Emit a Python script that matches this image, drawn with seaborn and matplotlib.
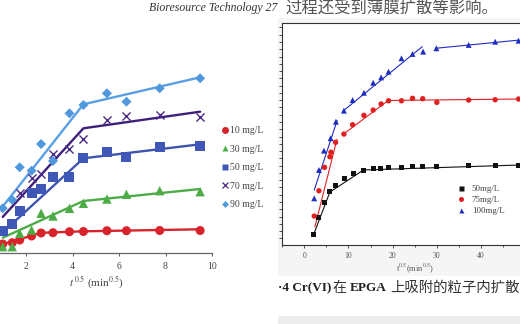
import numpy as np
import pandas as pd
import seaborn as sns
import matplotlib
matplotlib.use("Agg")
import matplotlib.pyplot as plt
from matplotlib.lines import Line2D
from matplotlib.patches import Rectangle
from matplotlib.ticker import MultipleLocator

# ---------------- data: left panel (q vs t^0.5) ----------------
left_x = [1.0, 1.41, 1.73, 2.24, 2.65, 3.16, 3.87, 4.47, 5.48, 6.32, 7.75, 9.49]
left_x70 = [1.73, 2.24, 2.65, 3.16, 3.87, 4.47, 5.48, 6.32, 7.75, 9.49]
q10 = [0.93, 1.06, 1.33, 1.73, 2.03, 2.06, 2.16, 2.18, 2.26, 2.26, 2.28, 2.28]
q30 = [0.66, 0.66, 2.0, 2.33, 4.0, 3.73, 4.5, 5.0, 5.43, 5.9, 6.26, 6.16]
q50 = [2.26, 2.93, 4.23, 6.0, 6.43, 7.6, 7.66, 9.5, 10.1, 9.66, 10.6, 10.76]
q70 = [6.03, 7.56, 7.93, 9.93, 10.43, 11.48, 13.33, 13.78, 13.83, 13.63]
q90 = [4.5, 5.33, 8.6, 8.26, 10.93, 9.23, 14.0, 14.83, 16.0, 15.16, 16.5, 17.5]
left_labels = ["10 mg/L", "30 mg/L", "50 mg/L", "70 mg/L", "90 mg/L"]

fit_x10 = [1.0, 2.65, 4.47, 9.49]
fit_q10 = [0.9, 2.05, 2.2, 2.4]
fit_x = [1.0, 4.47, 9.49]
fit_q30 = [1.56, 5.23, 6.43]
fit_q50 = [2.09, 9.5, 10.9]
fit_q70 = [3.64, 12.5, 14.16]
fit_q90 = [4.68, 14.9, 17.6]
left_xticks = [2, 4, 6, 8, 10]

# ---------------- data: right panel ----------------
r_x50 = [2.04, 3.26, 4.52, 5.81, 7.17, 9.05, 11.1, 13.5, 15.6, 17.3, 19.1, 21.9, 24.5, 26.8, 30.0, 37.2, 43.2, 48.5]
r_q50 = [2.75, 14.4, 24.8, 32.0, 36.5, 41.3, 44.4, 46.5, 47.7, 48.1, 48.6, 49.0, 49.2, 49.5, 49.7, 49.9, 50.2, 50.2]
r_x75 = [2.26, 3.32, 4.6, 5.81, 6.04, 7.1, 8.98, 10.94, 13.5, 15.6, 17.4, 19.07, 22.0, 24.5, 26.8, 30.0, 37.2, 43.2, 48.5]
r_q75 = [15.3, 32.7, 48.8, 56.1, 59.2, 66.0, 71.7, 78.1, 84.6, 88.2, 92.4, 94.6, 94.6, 96.3, 96.0, 93.5, 95.1, 95.3, 95.8]
r_x100 = [2.26, 3.32, 4.46, 5.97, 7.17, 8.98, 10.94, 13.5, 15.6, 17.4, 19.07, 22.0, 24.5, 26.9, 29.9, 37.2, 43.2, 48.5]
r_q100 = [27.5, 47.0, 60.3, 68.8, 80.2, 87.8, 95.1, 100.1, 107.0, 110.7, 114.6, 123.8, 126.8, 128.4, 130.7, 133.0, 135.2, 135.9]
right_labels = ["50mg/L", "75mg/L", "100mg/L"]

# fitted segments (series, segment id, x, q)
rfit_series = ["50mg/L"] * 4 + ["75mg/L"] * 5 + ["100mg/L"] * 6
rfit_seg = [0, 0, 0, 0, 1, 1, 2, 2, 2, 3, 3, 4, 4, 5, 5]
rfit_x = [2.0, 5.8, 13.4, 48.5, 2.42, 7.4, 8.8, 19.0, 48.5, 2.26, 7.45, 8.8, 26.7, 29.7, 48.5]
rfit_q = [1.6, 31.8, 47.0, 50.4, 8.0, 68.1, 71.5, 94.8, 95.8, 33.2, 81.1, 87.6, 131.8, 130.7, 136.3]
right_xticks = [0, 10, 20, 30, 40]

# ---------------- styling ----------------
sns.set_theme(style="white")
plt.rcParams["font.family"] = ["Liberation Serif", "Noto Sans CJK SC", "DejaVu Sans"]
plt.rcParams["mathtext.fontset"] = "stix"

W, H = 520, 324
fig = plt.figure(figsize=(W / 100, H / 100), dpi=100)
fig.patch.set_facecolor("white")

def fx(px):
    return px / W

def fy(py):
    return 1 - py / H

# light grey background behind right picture, grey band at bottom
fig.patches.append(Rectangle((fx(278), fy(276)), fx(520) - fx(278), (276 - 18) / H,
                             transform=fig.transFigure, facecolor="#f5f5f5",
                             edgecolor="none", zorder=-10))
fig.patches.append(Rectangle((fx(278), 0), fx(520) - fx(278), 8 / H,
                             transform=fig.transFigure, facecolor="#ededed",
                             edgecolor="none", zorder=-10))

left_colors = {"10 mg/L": "#d8232a", "30 mg/L": "#4dac47", "50 mg/L": "#3f58b8",
               "70 mg/L": "#4a2a86", "90 mg/L": "#4f98de"}
left_line_colors = {"10 mg/L": "#d8232a", "30 mg/L": "#4dac47", "50 mg/L": "#3f53b0",
                    "70 mg/L": "#3f1f7a", "90 mg/L": "#5a9fe3"}
left_markers = {"10 mg/L": "o", "30 mg/L": "^", "50 mg/L": "s", "70 mg/L": "x", "90 mg/L": "D"}
left_sizes = {"10 mg/L": 42, "30 mg/L": 46, "50 mg/L": 52, "70 mg/L": 34, "90 mg/L": 26}

# ---------------- left axes ----------------
ax1 = fig.add_axes([fx(-20.5), fy(253.3), 232.5 / W, 253.3 / H])
ax1.set_facecolor("none")

pts = pd.concat([
    pd.DataFrame({"x": left_x, "q": q10, "c": left_labels[0]}),
    pd.DataFrame({"x": left_x, "q": q30, "c": left_labels[1]}),
    pd.DataFrame({"x": left_x, "q": q50, "c": left_labels[2]}),
    pd.DataFrame({"x": left_x70, "q": q70, "c": left_labels[3]}),
    pd.DataFrame({"x": left_x, "q": q90, "c": left_labels[4]}),
], ignore_index=True)
fits = pd.concat([
    pd.DataFrame({"x": fit_x10, "q": fit_q10, "c": left_labels[0]}),
    pd.DataFrame({"x": fit_x, "q": fit_q30, "c": left_labels[1]}),
    pd.DataFrame({"x": fit_x, "q": fit_q50, "c": left_labels[2]}),
    pd.DataFrame({"x": fit_x, "q": fit_q70, "c": left_labels[3]}),
    pd.DataFrame({"x": fit_x, "q": fit_q90, "c": left_labels[4]}),
], ignore_index=True)

sns.lineplot(data=fits, x="x", y="q", hue="c", palette=left_line_colors,
             estimator=None, sort=False, linewidth=1.7, legend=False, ax=ax1, zorder=2)
for lab in left_labels:
    sub = pts[pts["c"] == lab]
    kw = dict(linewidth=1.0) if left_markers[lab] == "x" else dict(edgecolor="none")
    sns.scatterplot(data=sub, x="x", y="q", color=left_colors[lab],
                    marker=left_markers[lab], s=left_sizes[lab], legend=False,
                    ax=ax1, zorder=3, clip_on=False, **kw)

ax1.set_xlim(0, 10)
ax1.set_ylim(0, 25.33)
for s in ["left", "top", "right"]:
    ax1.spines[s].set_visible(False)
ax1.spines["bottom"].set_color("#666666")
ax1.spines["bottom"].set_linewidth(0.9)
ax1.set_xticks(left_xticks)
ax1.set_yticks([])
ax1.tick_params(axis="x", direction="out", length=2.5, width=0.8, color="#666666",
                labelsize=7, labelcolor="#444444", pad=3.5, bottom=True)
ax1.set_xlabel("")
ax1.set_ylabel("")
fig.text(fx(96), fy(283), r"$\mathit{t}^{\,\mathit{0.5}}$ (min$^{0.5}$)", fontsize=8,
         color="#444444", ha="center", va="center")

handles = []
for lab in left_labels:
    m = left_markers[lab]
    if m == "x":
        h = Line2D([], [], linestyle="none", marker=m, color=left_colors[lab],
                   markersize=4.5, markeredgewidth=0.9)
    else:
        h = Line2D([], [], linestyle="none", marker=m, color=left_colors[lab],
                   markeredgecolor="none", markersize={"o": 5, "^": 5, "s": 5, "D": 3.5}[m])
    handles.append(h)
leg1 = fig.legend(handles, left_labels, loc="upper left", bbox_to_anchor=(fx(220.5), fy(126)),
                  bbox_transform=fig.transFigure, frameon=False, fontsize=7,
                  handlelength=0.9, handletextpad=0.05, labelspacing=0.98,
                  borderpad=0, borderaxespad=0)
for t in leg1.get_texts():
    t.set_color("#444444")

# ---------------- right axes ----------------
ax2 = fig.add_axes([fx(281.7), fy(245), 265.6 / W, (245 - 22.7) / H])
ax2.set_facecolor("white")

rpts = pd.concat([
    pd.DataFrame({"x": r_x50, "q": r_q50, "c": right_labels[0]}),
    pd.DataFrame({"x": r_x75, "q": r_q75, "c": right_labels[1]}),
    pd.DataFrame({"x": r_x100, "q": r_q100, "c": right_labels[2]}),
], ignore_index=True)
rfit = pd.DataFrame({"x": rfit_x, "q": rfit_q, "c": rfit_series, "seg": rfit_seg})

right_colors = {"50mg/L": "#111111", "75mg/L": "#e02020", "100mg/L": "#1f2cc0"}
right_markers = {"50mg/L": "s", "75mg/L": "o", "100mg/L": "^"}
right_sizes = {"50mg/L": 13, "75mg/L": 15, "100mg/L": 18}

sns.lineplot(data=rfit, x="x", y="q", hue="c", units="seg", palette=right_colors,
             estimator=None, sort=False, linewidth=0.8, legend=False, ax=ax2, zorder=2)
for lab in right_labels:
    sub = rpts[rpts["c"] == lab]
    sns.scatterplot(data=sub, x="x", y="q", color=right_colors[lab],
                    marker=right_markers[lab], s=right_sizes[lab], edgecolor="none",
                    legend=False, ax=ax2, zorder=3)

ax2.set_xlim(-5.1, 55)
ax2.set_ylim(-4.6, 148.3)
for s in ["left", "top", "right", "bottom"]:
    ax2.spines[s].set_color("#333333")
    ax2.spines[s].set_linewidth(0.8)
ax2.set_xticks(right_xticks)
ax2.xaxis.set_minor_locator(MultipleLocator(5))
ax2.yaxis.set_major_locator(MultipleLocator(10))
ax2.yaxis.set_minor_locator(MultipleLocator(5))
ax2.tick_params(axis="x", which="major", direction="out", length=2.5, width=0.6,
                color="#333333", labelsize=5.5, labelcolor="#555555", pad=2.5, bottom=True)
ax2.tick_params(axis="x", which="minor", direction="out", length=1.5, width=0.6,
                color="#333333", bottom=True)
ax2.tick_params(axis="y", which="both", direction="out", length=2, width=0.6,
                color="#333333", left=True, labelleft=False)
ax2.set_xlabel("")
ax2.set_ylabel("")
fig.text(fx(415), fy(268), r"t$^{0.5}$(min$^{0.5}$)", fontsize=6, color="#555555",
         ha="center", va="center")

rhandles = [Line2D([], [], linestyle="none", marker=right_markers[l], color=right_colors[l],
                   markeredgecolor="none", markersize=3.6) for l in right_labels]
leg2 = fig.legend(rhandles, right_labels, loc="upper left", bbox_to_anchor=(fx(455.5), fy(184.5)),
                  bbox_transform=fig.transFigure, frameon=False, fontsize=6.5,
                  handlelength=1.2, handletextpad=0.6, labelspacing=0.3,
                  borderpad=0, borderaxespad=0)
for t in leg2.get_texts():
    t.set_color("#444444")

# ---------------- surrounding document text ----------------
fig.text(fx(149), fy(8), "Bioresource Technology 27", fontsize=8.5, style="italic",
         color="#333333", ha="left", va="center", family=["Liberation Serif"])
fig.text(fx(285), fy(8), "过程还受到薄膜扩散等影响。", fontsize=11.8, color="#555555",
         ha="left", va="center", family=["Noto Sans CJK SC", "DejaVu Sans"])

# caption pieces placed one after another using measured widths
renderer = fig.canvas.get_renderer()
pieces = [("·4 Cr(VI)", "bold", ["Liberation Serif", "DejaVu Sans"], 9.5, "#222222"),
          ("在", "normal", ["Noto Sans CJK SC", "DejaVu Sans"], 10, "#333333"),
          ("EPGA", "bold", ["Liberation Serif", "DejaVu Sans"], 9.5, "#222222"),
          ("上吸附的粒子内扩散", "normal", ["Noto Sans CJK SC", "DejaVu Sans"], 10.4, "#333333")]
gaps = [0, 1, 3, 4]
xpos = 278.0
for (txt, wt, fam, fs, col), gap in zip(pieces, gaps):
    xpos += gap
    t = fig.text(fx(xpos), fy(288), txt, fontsize=fs, weight=wt, color=col,
                 ha="left", va="center", family=fam)
    bb = t.get_window_extent(renderer=renderer)
    xpos += bb.width

fig.savefig("out.png", dpi=100, facecolor="white")
